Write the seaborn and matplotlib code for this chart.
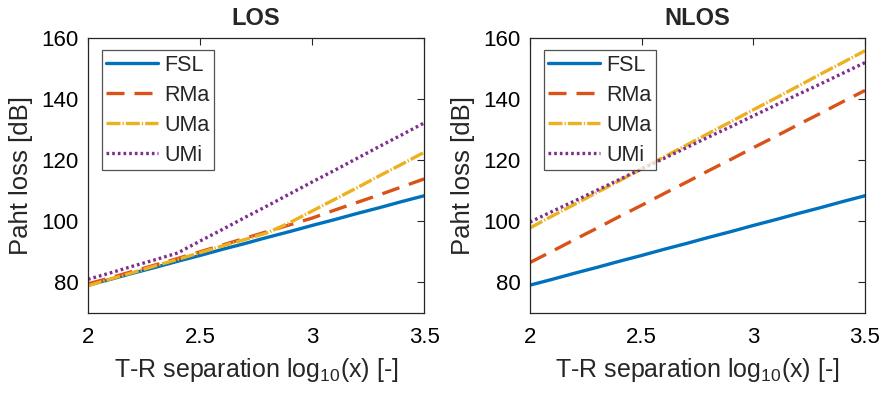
import numpy as np
import pandas as pd
import matplotlib
matplotlib.use("Agg")
import matplotlib.pyplot as plt
import seaborn as sns

# --- data (path loss in dB vs log10 distance) ---
log_d = [2.0, 2.1, 2.2, 2.3, 2.4, 2.5, 2.6, 2.7, 2.8, 2.9, 3.0, 3.1, 3.2, 3.3, 3.4, 3.5]

fsl = [79.1, 81.0, 83.0, 84.9, 86.9, 88.8, 90.8, 92.7, 94.7, 96.6, 98.6, 100.5, 102.5, 104.4, 106.4, 108.3]

los_rma = [79.5, 81.5, 83.6, 85.7, 87.8, 90.0, 92.2, 94.4, 96.6, 98.8, 101.0, 103.6, 106.1, 108.6, 111.2, 113.8]
los_uma = [78.9, 81.1, 83.2, 85.4, 87.5, 89.7, 91.9, 94.0, 96.2, 99.5, 103.3, 107.1, 110.9, 114.8, 118.6, 122.5]
los_umi = [81.0, 83.1, 85.3, 87.4, 89.6, 93.5, 97.3, 101.2, 105.0, 108.9, 112.8, 116.6, 120.5, 124.4, 128.2, 132.1]

nlos_rma = [86.5, 90.2, 94.0, 97.7, 101.5, 105.2, 109.0, 112.7, 116.5, 120.2, 124.0, 127.7, 131.5, 135.2, 139.0, 142.7]
nlos_uma = [97.8, 101.7, 105.5, 109.4, 113.2, 117.1, 121.0, 124.8, 128.7, 132.5, 136.4, 140.2, 144.1, 148.0, 151.8, 155.7]
nlos_umi = [99.7, 103.2, 106.6, 110.1, 113.6, 117.1, 120.5, 124.0, 127.5, 130.9, 134.4, 137.9, 141.4, 144.8, 148.3, 151.8]

models = ["FSL", "RMa", "UMa", "UMi"]
panels = ["LOS", "NLOS"]

# --- style (MATLAB look) ---
sns.set_style("white")
plt.rcParams["font.family"] = ["Liberation Sans", "DejaVu Sans"]
plt.rcParams["mathtext.fontset"] = "custom"
plt.rcParams["mathtext.rm"] = "Liberation Sans"
plt.rcParams["mathtext.it"] = "Liberation Sans:italic"

colors = {"FSL": "#0072BD", "RMa": "#D95319", "UMa": "#EDB120", "UMi": "#7E2F8E"}
dashes = {"FSL": None, "RMa": (5.4, 3.0), "UMa": (4.2, 0.6, 0.4, 0.6), "UMi": (0.8, 0.9)}
lw = 2.4

series = {
    "LOS": {"FSL": fsl, "RMa": los_rma, "UMa": los_uma, "UMi": los_umi},
    "NLOS": {"FSL": fsl, "RMa": nlos_rma, "UMa": nlos_uma, "UMi": nlos_umi},
}

fig = plt.figure(figsize=(8.87, 3.96), dpi=100)
ax_pos = {"LOS": [0.0992, 0.2096, 0.379, 0.6957],
          "NLOS": [0.5975, 0.2096, 0.3777, 0.6957]}

for panel in panels:
    ax = fig.add_axes(ax_pos[panel])
    for m in models:
        df = pd.DataFrame({"x": log_d, "pl": series[panel][m]})
        line = sns.lineplot(data=df, x="x", y="pl", ax=ax, color=colors[m],
                            linewidth=lw, label=m).lines[-1]
        if dashes[m] is not None:
            line.set_dashes(dashes[m])
    ax.set_xlim(2, 3.5)
    ax.set_ylim(70, 160)
    ax.set_xticks([2, 2.5, 3, 3.5])
    ax.set_xticklabels(["2", "2.5", "3", "3.5"])
    ax.set_yticks([80, 100, 120, 140, 160])
    ax.tick_params(direction="in", length=5, width=0.8, labelsize=16,
                   top=True, right=True, colors="#262626", labelcolor="black")
    ax.tick_params(axis="x", pad=10)
    ax.tick_params(axis="y", pad=7)
    for s in ax.spines.values():
        s.set_color("#262626")
        s.set_linewidth(0.9)
    ax.set_title(panel, fontsize=17, fontweight="bold", pad=9)
    ax.set_xlabel(r"T-R separation log$_{\mathrm{10}}$(x) [-]", fontsize=18, labelpad=6)
    ax.set_ylabel("Paht loss [dB]", fontsize=18.5, labelpad=6)
    leg = ax.legend(loc="upper left", bbox_to_anchor=(0.042, 0.953), borderaxespad=0,
                    fontsize=15.5, frameon=True, fancybox=False, handlelength=2.4,
                    handletextpad=0.3, labelspacing=0.42, borderpad=0.2)
    leg.get_frame().set_edgecolor("#262626")
    leg.get_frame().set_linewidth(0.9)
    for h in leg.get_lines():
        h.set_linewidth(lw)

fig.savefig("out.png", dpi=100)
